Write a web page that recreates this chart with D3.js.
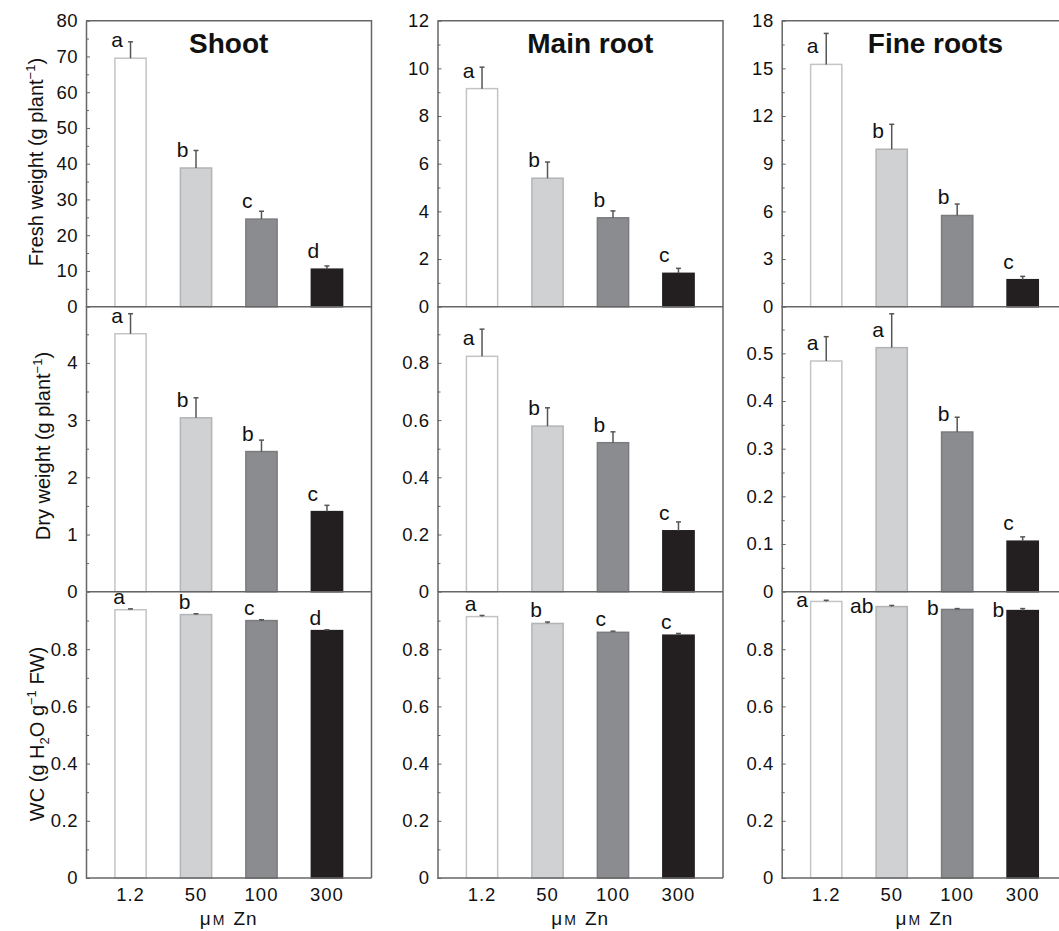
<!DOCTYPE html>
<html>
<head>
<meta charset="utf-8">
<script src="https://cdn.jsdelivr.net/npm/d3@7"></script>
<style>
  body { margin: 0; background: #fff; }
  text { font-family: "Liberation Sans", Arial, Helvetica, sans-serif; fill: #111; }
</style>
</head>
<body>
<div id="chart"></div>
<script>
var w = 1059;
var h = 931;

// data
var categories = ["1.2", "50", "100", "300"];
var organs = ["Shoot", "Main root", "Fine roots"];

var fwMean = [[69.5, 38.8, 24.5, 10.5], [9.15, 5.39, 3.73, 1.40], [15.25, 9.91, 5.74, 1.70]];
var fwErr = [[4.6, 4.9, 2.2, 0.9], [0.9, 0.68, 0.29, 0.21], [1.95, 1.57, 0.72, 0.21]];
var fwLetters = [["a", "b", "c", "d"], ["a", "b", "b", "c"], ["a", "b", "b", "c"]];

var dwMean = [[4.51, 3.04, 2.45, 1.40], [0.823, 0.579, 0.521, 0.213], [0.484, 0.512, 0.335, 0.106]];
var dwErr = [[0.35, 0.35, 0.2, 0.11], [0.095, 0.064, 0.038, 0.031], [0.051, 0.071, 0.031, 0.009]];
var dwLetters = [["a", "b", "b", "c"], ["a", "b", "b", "c"], ["a", "a", "b", "c"]];

var wcMean = [[0.938, 0.921, 0.900, 0.865], [0.914, 0.890, 0.859, 0.849], [0.967, 0.949, 0.939, 0.935]];
var wcErr = [[0.003, 0.003, 0.003, 0.003], [0.004, 0.005, 0.004, 0.006], [0.004, 0.004, 0.003, 0.007]];
var wcLetters = [["a", "b", "c", "d"], ["a", "b", "c", "c"], ["a", "ab", "b", "b"]];

// y axis extents and tick steps, per row then per column
var yMax = [[80, 12, 18], [5, 1, 0.6], [1, 1, 1]];
var yStep = [[10, 2, 3], [1, 0.2, 0.1], [0.2, 0.2, 0.2]];

var rows = [
  { mean: fwMean, err: fwErr, letters: fwLetters },
  { mean: dwMean, err: dwErr, letters: dwLetters },
  { mean: wcMean, err: wcErr, letters: wcLetters }
];

// layout
var colLeft = [86, 437.5, 781.7];
var colW = 285.5;
var rowTop = [20.7, 305.7, 592];
var rowH = 286;
var titleDx = [0, 10, 11];

var fills = ["#ffffff", "#d0d1d3", "#8b8c8f", "#231f20"];
var strokes = ["#c3c4c6", "#b3b4b6", "#7b7c7f", "#231f20"];
var lineCol = "#666";

var svg = d3.select("#chart").append("svg").attr("width", w).attr("height", h);

var x = d3.scaleBand().domain(categories).range([0, colW]).paddingInner(0.5).paddingOuter(0.43);

function fmt(v) { return String(+v.toFixed(2)); }

function drawPanel(col, r, c) {
  var y0 = rowTop[r];
  var y = d3.scaleLinear().domain([0, yMax[r][c]]).range([y0 + rowH, y0]);
  var step = yStep[r][c];
  var n = Math.round(yMax[r][c] / step);
  var major = [], minor = [];
  for (var i = 0; i <= n; i++) {
    if (r == 0 || i < n) major.push(+(i * step).toFixed(4));
    if (i < n) minor.push(+((i + 0.5) * step).toFixed(4));
  }

  var g = col.append("g");

  // bars, error bars, letters
  var m = rows[r].mean[c], e = rows[r].err[c], lt = rows[r].letters[c];
  categories.forEach(function (cat, k) {
    g.append("rect")
      .attr("x", x(cat) + 0.75)
      .attr("y", y(m[k]))
      .attr("width", x.bandwidth() - 1.5)
      .attr("height", y(0) - y(m[k]))
      .attr("fill", fills[k])
      .attr("stroke", strokes[k])
      .attr("stroke-width", 1.5);

    var cx = x(cat) + x.bandwidth() / 2;
    g.append("line")
      .attr("x1", cx).attr("x2", cx)
      .attr("y1", y(m[k])).attr("y2", y(m[k] + e[k]))
      .attr("stroke", "#555").attr("stroke-width", 1.5);
    g.append("line")
      .attr("x1", cx - 2.5).attr("x2", cx + 2.5)
      .attr("y1", y(m[k] + e[k])).attr("y2", y(m[k] + e[k]))
      .attr("stroke", "#555").attr("stroke-width", 1.5);

    var tx, ty, anchor;
    if (r < 2) { tx = x(cat) - 3; ty = y(m[k]) - 11; anchor = "start"; }
    else if (c < 2) { tx = x(cat) - 1; ty = y(m[k]) - 6; anchor = "start"; }
    else { tx = x(cat) - 2; ty = y(m[k]) + 6; anchor = "end"; }
    g.append("text")
      .text(lt[k])
      .attr("x", tx).attr("y", ty)
      .attr("text-anchor", anchor)
      .attr("font-size", 21);
  });

  // y axis: minor then major ticks, pointing inward
  g.append("g")
    .call(d3.axisLeft(y).tickValues(minor).tickSize(-3).tickSizeOuter(0).tickFormat(""))
    .call(function (a) { a.select(".domain").remove(); a.selectAll("line").attr("stroke", lineCol); });
  g.append("g")
    .call(d3.axisLeft(y).tickValues(major).tickSize(-4).tickSizeOuter(0).tickPadding(8).tickFormat(fmt))
    .call(function (a) {
      a.select(".domain").attr("stroke", lineCol).attr("stroke-width", 1.5);
      a.selectAll("line").attr("stroke", lineCol);
      a.selectAll("text").attr("font-size", 18.5).attr("fill", "#111").attr("letter-spacing", 0.5)
        .attr("font-family", "Liberation Sans, Arial, sans-serif");
    });

  // x axis line
  var xa = g.append("g").attr("transform", "translate(0," + y(0) + ")")
    .call(d3.axisBottom(x).tickSize(0).tickSizeOuter(0).tickPadding(10));
  xa.select(".domain").attr("stroke", lineCol).attr("stroke-width", 1.5).attr("d", "M0,0H" + colW);
  if (r < 2) xa.selectAll(".tick").remove();
  else xa.selectAll("text").attr("font-size", 18.5).attr("fill", "#111").attr("letter-spacing", 1)
    .attr("font-family", "Liberation Sans, Arial, sans-serif");
}

for (var c = 0; c < 3; c++) {
  var col = svg.append("g").attr("transform", "translate(" + colLeft[c] + ",0)");

  for (var r = 0; r < 3; r++) drawPanel(col, r, c);

  // column frame: top and right edges
  col.append("path")
    .attr("d", "M0," + rowTop[0] + "H" + colW + "V" + (rowTop[2] + rowH))
    .attr("fill", "none").attr("stroke", lineCol).attr("stroke-width", 1.5);

  col.append("text")
    .text(organs[c])
    .attr("x", colW / 2 + titleDx[c]).attr("y", 53)
    .attr("text-anchor", "middle")
    .attr("font-size", 28).attr("font-weight", "bold");

  var xl = col.append("text")
    .attr("x", colW / 2).attr("y", 925)
    .attr("text-anchor", "middle").attr("font-size", 19).attr("letter-spacing", 1);
  xl.append("tspan").text("μ");
  xl.append("tspan").attr("font-size", 14).attr("dx", 1).text("M");
  xl.append("tspan").attr("dx", 8).text("Zn");
}

// y axis titles
function ytitle(px, py) {
  return svg.append("text")
    .attr("transform", "translate(" + px + "," + py + ") rotate(-90)")
    .attr("text-anchor", "middle").attr("font-size", 20);
}
var t1 = ytitle(43, 162);
t1.append("tspan").text("Fresh weight (g plant");
t1.append("tspan").attr("font-size", 13).attr("dy", -8).text("−1");
t1.append("tspan").attr("dy", 8).text(")");

var t2 = ytitle(50, 446);
t2.append("tspan").text("Dry weight (g plant");
t2.append("tspan").attr("font-size", 13).attr("dy", -8).text("−1");
t2.append("tspan").attr("dy", 8).text(")");

var t3 = ytitle(44, 734);
t3.append("tspan").text("WC (g H");
t3.append("tspan").attr("font-size", 13).attr("dy", 5).text("2");
t3.append("tspan").attr("dy", -5).text("O g");
t3.append("tspan").attr("font-size", 13).attr("dy", -8).text("−1");
t3.append("tspan").attr("dy", 8).text(" FW)");
</script>
</body>
</html>
